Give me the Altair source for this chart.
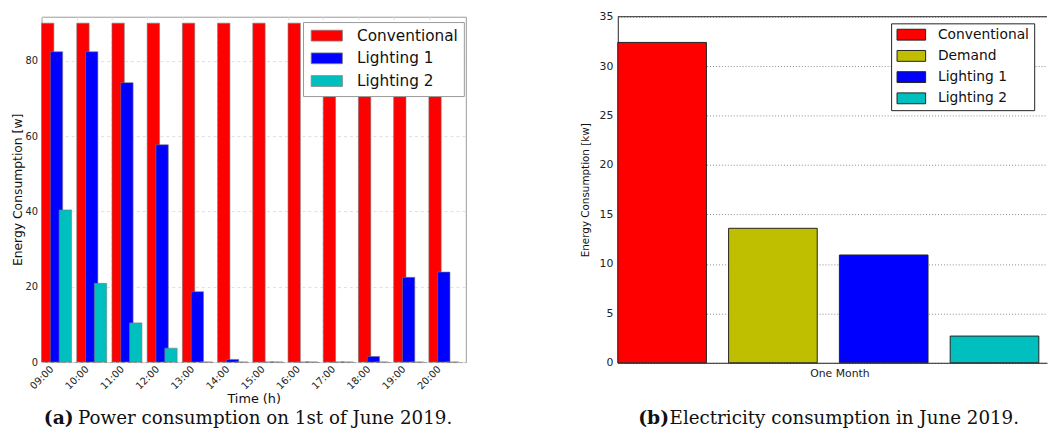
import altair as alt
import pandas as pd

# ---------------- data: panel (a) ----------------
hours = ["09:00", "10:00", "11:00", "12:00", "13:00", "14:00",
         "15:00", "16:00", "17:00", "18:00", "19:00", "20:00"]
conventional = [90, 90, 90, 90, 90, 90, 90, 90, 90, 90, 90, 90]
lighting1 = [82.4, 82.4, 74.2, 57.7, 18.7, 0.7, 0, 0, 0, 1.5, 22.5, 23.9]
lighting2 = [40.4, 20.9, 10.4, 3.7, 0, 0, 0, 0, 0, 0, 0, 0]
series_a = ["Conventional", "Lighting 1", "Lighting 2"]
colors_a = ["#ff0000", "#0000ff", "#00bfbf"]

# ---------------- data: panel (b) ----------------
series_b = ["Conventional", "Demand", "Lighting 1", "Lighting 2"]
month_values = [32.4, 13.6, 10.9, 2.7]
colors_b = ["#ff0000", "#bfbf00", "#0000ff", "#00bfbf"]

# build tables
rows = []
for k, (name, vals) in enumerate(zip(series_a, [conventional, lighting1, lighting2])):
    for i, v in enumerate(vals):
        rows.append({"series": name, "hour": hours[i], "i": i, "k": k, "value": v})
df_a = pd.DataFrame(rows)

df_b = pd.DataFrame({"series": series_b, "value": month_values,
                     "i": list(range(len(series_b)))})

hour_expr = "[" + ",".join("'%s'" % h for h in hours) + "][datum.value]"

FONT = "DejaVu Sans"
SERIF = "DejaVu Serif"
CAP_A, CAP_B = 412.5, 413.0   # caption baselines, relative to the plot tops

# ---------------- panel (a) ----------------
W1, H1 = 430, 350
bars_a = alt.Chart(df_a).transform_calculate(
    x0="datum.i + 0.25 * datum.k",
    x1="datum.i + 0.25 * datum.k + 0.35",
).mark_bar(stroke="#777777", strokeWidth=0.6).encode(
    x=alt.X("x0:Q",
            scale=alt.Scale(domain=[0, 12.05], nice=False, zero=False),
            axis=alt.Axis(values=list(range(12)), labelExpr=hour_expr,
                          labelAngle=315, labelAlign="center", labelBaseline="middle",
                          labelPadding=15.5, ticks=False, domain=False,
                          labelFontSize=10, labelColor="#222222", labelFont=FONT,
                          grid=True, gridDash=[3, 3], gridColor="#dddddd",
                          title="Time (h)", titleFontSize=13, titleFont=FONT,
                          titleFontWeight="normal", titleColor="#111111",
                          titlePadding=2)),
    x2="x1:Q",
    y=alt.Y("value:Q",
            scale=alt.Scale(domain=[0, 91.7], nice=False),
            axis=alt.Axis(values=[0, 20, 40, 60, 80], ticks=False, domain=False,
                          labelFontSize=10, labelColor="#222222", labelFont=FONT,
                          labelPadding=4,
                          grid=True, gridDash=[3, 3], gridColor="#dddddd",
                          title="Energy Consumption [w]", titleFontSize=12.5,
                          titleFont=FONT, titleFontWeight="normal",
                          titleColor="#111111", titlePadding=1)),
    y2=alt.datum(0),
    color=alt.Color("series:N",
                    scale=alt.Scale(domain=series_a, range=colors_a),
                    legend=alt.Legend(orient="none", legendX=265, legendY=5.4,
                                      title=None, direction="vertical",
                                      symbolType="M-1,-1H4.764V1H-1Z",
                                      symbolSize=121, symbolStrokeColor="#888888",
                                      symbolStrokeWidth=0.8, symbolOpacity=1,
                                      labelFontSize=15.5, labelFont=FONT,
                                      labelColor="#111111", labelOffset=33.3,
                                      rowPadding=6, padding=6,
                                      strokeColor="#999999", fillColor="white")),
    order=alt.Order("k:Q"),
)

cap_a1 = alt.Chart(pd.DataFrame({"t": ["(a)"]})).mark_text(
    align="left", baseline="alphabetic", font=SERIF, fontSize=19,
    fontWeight="bold", color="#111111"
).encode(text="t:N", x=alt.value(2.3), y=alt.value(CAP_A))
cap_a2 = alt.Chart(pd.DataFrame({"t": ["Power consumption on 1st of June 2019."]})).mark_text(
    align="left", baseline="alphabetic", font=SERIF, fontSize=18.5,
    color="#111111"
).encode(text="t:N", x=alt.value(37), y=alt.value(CAP_A))

panel_a = alt.layer(bars_a, cap_a1, cap_a2).properties(
    width=W1, height=H1, view=alt.ViewBackground(stroke="#999999", strokeWidth=1)
)

# ---------------- panel (b) ----------------
W2, H2 = 435, 350.7
bars_b = alt.Chart(df_b).transform_calculate(
    x0="datum.i", x1="datum.i + 0.8"
).mark_bar(stroke="#222222", strokeWidth=1).encode(
    x=alt.X("x0:Q",
            scale=alt.Scale(domain=[0, 3.874], nice=False, zero=False),
            axis=alt.Axis(values=[2], labelExpr="'One Month'", ticks=False,
                          domain=True, domainColor="#222222", grid=False,
                          labelFontSize=11, labelFont=FONT, labelColor="#222222",
                          labelPadding=5, title=None)),
    x2="x1:Q",
    y=alt.Y("value:Q",
            scale=alt.Scale(domain=[0, 35], nice=False),
            axis=alt.Axis(values=[0, 5, 10, 15, 20, 25, 30, 35], ticks=False,
                          domain=True, domainColor="#222222",
                          labelFontSize=11, labelFont=FONT, labelColor="#222222",
                          labelPadding=5,
                          grid=True, gridDash=[1, 2], gridColor="#888888",
                          title="Energy Consumption [kw]", titleFontSize=10.5,
                          titleFont=FONT, titleFontWeight="normal",
                          titleColor="#111111", titlePadding=9)),
    y2=alt.datum(0),
    color=alt.Color("series:N",
                    scale=alt.Scale(domain=series_b, range=colors_b),
                    legend=alt.Legend(orient="none", legendX=277, legendY=6.7,
                                      title=None, direction="vertical",
                                      symbolType="M-1,-1H4.27V1H-1Z",
                                      symbolSize=121, symbolStrokeColor="#222222",
                                      symbolStrokeWidth=1, symbolOpacity=1,
                                      labelFontSize=14, labelFont=FONT,
                                      labelColor="#111111", labelOffset=29,
                                      rowPadding=5.5, padding=4.5,
                                      strokeColor="#222222", fillColor="white")),
)

top_b = alt.Chart(pd.DataFrame({"v": [35]})).mark_rule(
    color="#222222", strokeWidth=1
).encode(y="v:Q", x=alt.value(0), x2=alt.value(W2))

cap_b1 = alt.Chart(pd.DataFrame({"t": ["(b)"]})).mark_text(
    align="left", baseline="alphabetic", font=SERIF, fontSize=19,
    fontWeight="bold", color="#111111"
).encode(text="t:N", x=alt.value(20.7), y=alt.value(CAP_B))
cap_b2 = alt.Chart(pd.DataFrame({"t": ["Electricity consumption in June 2019."]})).mark_text(
    align="left", baseline="alphabetic", font=SERIF, fontSize=18.5,
    color="#111111"
).encode(text="t:N", x=alt.value(52.5), y=alt.value(CAP_B))

panel_b = alt.layer(bars_b, top_b, cap_b1, cap_b2).properties(
    width=W2, height=H2
)

chart = alt.hconcat(panel_a, panel_b, spacing=115).resolve_scale(
    color="independent"
).properties(
    padding={"left": 2, "top": 0, "right": 0, "bottom": 0}
).configure_view(stroke=None)

chart.save("out.html", embed_options={"renderer": "svg", "actions": False})
